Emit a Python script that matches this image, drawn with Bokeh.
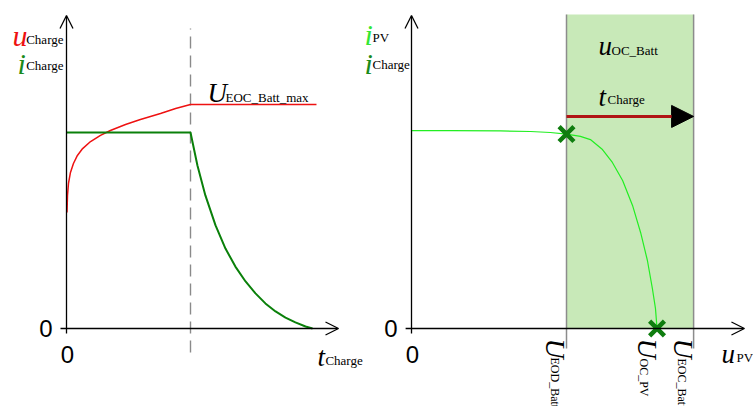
from bokeh.plotting import figure
from bokeh.models import Range1d, Arrow, OpenHead, NormalHead
from bokeh.core.properties import value
from bokeh.embed import file_html
from bokeh.resources import INLINE
import math

# ---------------- data ----------------
# Left panel: charging profile over time t_Charge (arbitrary units)
t_u = [0.02, 0.04, 0.08, 0.16, 0.28, 0.44, 0.65, 0.97, 1.37, 1.77, 2.38, 2.98, 3.79, 4.40, 5.0, 10.08]
u_charge = [0.592, 0.679, 0.740, 0.796, 0.842, 0.883, 0.918, 0.954, 0.985, 1.010, 1.041, 1.066, 1.097, 1.122, 1.143, 1.143]
t_i = [0.0, 5.0, 5.28, 5.60, 6.01, 6.41, 6.81, 7.22, 7.62, 8.02, 8.43, 8.83, 9.23, 9.64, 9.92]
i_charge = [1.0, 1.0, 0.832, 0.679, 0.526, 0.408, 0.316, 0.240, 0.179, 0.128, 0.087, 0.056, 0.031, 0.010, 0.0]
t_switch = 5.0

# Right panel: PV current vs PV voltage (arbitrary units)
u_pv = [0.0, 1.26, 2.87, 3.84, 4.48, 5.0, 5.45, 5.77, 6.16, 6.48, 6.81, 7.13, 7.39, 7.61, 7.77, 7.87, 7.92]
i_pv = [1.010, 1.010, 1.008, 1.005, 1.0, 0.992, 0.980, 0.964, 0.913, 0.847, 0.755, 0.628, 0.490, 0.347, 0.204, 0.102, 0.0]
U_EOD_Batt = 5.0
U_OC_PV = 7.92
U_EOC_Batt = 9.1
marker_u = [U_EOD_Batt, U_OC_PV]
marker_i = [0.992, 0.0]
t_charge_level = 1.082

# axis extents (arbitrary units)
y_top = 1.597
y_under = -0.025
band_top = 1.602
line_bottom = -0.102

SERIF = value("Liberation Serif")
SANS = value("Liberation Sans")

p = figure(width=753, height=406, output_backend="svg", toolbar_location=None,
           x_range=Range1d(-2.6613, 27.7016), y_range=Range1d(-0.39796, 1.67347),
           x_axis_type=None, y_axis_type=None, min_border=0)
p.outline_line_color = None
p.extra_x_ranges = {"u": Range1d(-13.258, 11.032)}

# ---------- right panel: band ----------
p.quad(left=[U_EOD_Batt], right=[U_EOC_Batt], bottom=[0], top=[band_top],
       fill_color="#c8e9b8", line_color=None, x_range_name="u")
p.segment(x0=[U_EOD_Batt, U_EOC_Batt], x1=[U_EOD_Batt, U_EOC_Batt],
          y0=[line_bottom, line_bottom], y1=[band_top, band_top],
          line_color="#8c8c8c", line_width=1.5, x_range_name="u")

# ---------- left panel ----------
p.segment(x0=[t_switch], x1=[t_switch], y0=[-0.122], y1=[1.531],
          line_color="#8a8a8a", line_width=1.4, line_dash="12 7")
p.line(t_u, u_charge, line_color="#ee1111", line_width=1.5)
p.line(t_i, i_charge, line_color="#0a800a", line_width=2)

# ---------- right panel curve ----------
p.line(u_pv, i_pv, line_color="#22ee22", line_width=1.2, x_range_name="u")
p.scatter(marker_u, marker_i, marker="x", size=21, line_color="#0f7d0f",
          line_width=4.5, x_range_name="u")

p.add_layout(Arrow(x_start=U_EOD_Batt, x_end=U_EOC_Batt, y_start=t_charge_level,
                   y_end=t_charge_level, line_color="#b01515", line_width=3,
                   end=NormalHead(size=22, fill_color="black", line_color="black"),
                   x_range_name="u"))

# ---------- axes ----------
def ax_arrow(xs, ys, xe, ye, rng="default"):
    p.add_layout(Arrow(x_start=xs, y_start=ys, x_end=xe, y_end=ye, line_color="black",
                       line_width=1.3, end=OpenHead(size=13, line_width=1.3, line_color="black"),
                       x_range_name=rng))

ax_arrow(0, y_under, 0, y_top)
ax_arrow(-0.242, 0, 10.968, 0)
ax_arrow(0, y_under, 0, y_top, "u")
ax_arrow(-0.19, 0, 10.74, 0, "u")

# ---------- texts ----------
def txt(x, y, s, size, color="black", style="normal", font=SERIF, rng="default",
        align="left", baseline="alphabetic", angle=0.0):
    p.text(x=[x], y=[y], text=[s], text_font=font, text_font_size=size,
           text_font_style=style, text_color=color, text_align=align,
           text_baseline=baseline, angle=angle, x_range_name=rng)

# left labels
txt(-2.177, 1.495, "u", "30px", "#ee1111", "italic")
txt(-0.121, 1.474, "Charge", "13px", align="right")
txt(-1.976, 1.352, "i", "30px", "#1a8a1a", "italic")
txt(-0.121, 1.342, "Charge", "13px", align="right")
txt(5.685, 1.199, "U", "27px", style="italic")
txt(6.411, 1.179, "EOC_Batt_max", "13px")
txt(10.121, -0.143, "t", "27px", style="italic")
txt(10.44, -0.163, "Charge", "13px")
txt(-0.827, 0, "0", "24px", font=SANS, align="center", baseline="middle")
txt(0.04, -0.133, "0", "24px", font=SANS, align="center", baseline="middle")

# right labels
txt(-1.516, 1.50, "i", "30px", "#33e633", "italic", rng="u")
txt(-1.258, 1.485, "PV", "13px", rng="u")
txt(-1.516, 1.352, "i", "30px", "#1a8a1a", "italic", rng="u")
txt(-1.258, 1.347, "Charge", "13px", rng="u")
txt(6.032, 1.439, "u", "27px", style="italic", rng="u")
txt(6.452, 1.418, "OC_Batt", "13px", rng="u")
txt(6.032, 1.179, "t", "27px", style="italic", rng="u")
txt(6.323, 1.168, "Charge", "13px", rng="u")
txt(10.0, -0.128, "u", "27px", style="italic", rng="u")
txt(10.484, -0.148, "PV", "13px", rng="u")
txt(-0.661, 0, "0", "24px", font=SANS, rng="u", align="center", baseline="middle")
txt(0.032, -0.133, "0", "24px", font=SANS, rng="u", align="center", baseline="middle")

rot = -math.pi / 2
txt(4.645, -0.051, "U", "28px", style="italic", rng="u", angle=rot)
txt(4.613, -0.148, "EOD_Batt", "12px", rng="u", angle=rot)
txt(7.613, -0.051, "U", "28px", style="italic", rng="u", angle=rot)
txt(7.484, -0.153, "OC_PV", "12px", rng="u", angle=rot)
txt(8.774, -0.051, "U", "28px", style="italic", rng="u", angle=rot)
txt(8.71, -0.153, "EOC_Batt", "12px", rng="u", angle=rot)

open("out.html", "w").write(file_html(p, INLINE))
